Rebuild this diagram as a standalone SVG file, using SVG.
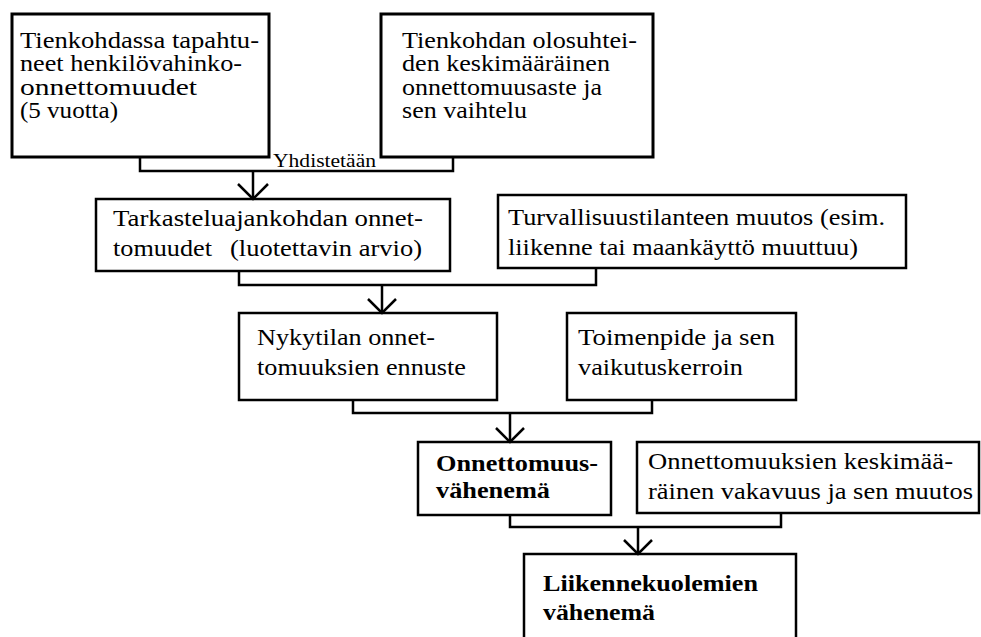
<svg xmlns="http://www.w3.org/2000/svg" width="981" height="637" viewBox="0 0 981 637">
<style>
.box{fill:#fff;stroke:#000;stroke-width:2.5}
text{font-family:'Liberation Serif','Times New Roman',Times,serif;fill:#000}
.t{font-size:23px}
.b{font-weight:bold}
.lbl{font-size:19.5px}
.c{fill:none;stroke:#000;stroke-width:2.5}
</style>
<rect width="981" height="637" fill="#fff"/>
<g id="n1"><rect class="box" x="12" y="14" width="257" height="143" style="stroke-width:3"/>
<text class="t" x="20" y="48" textLength="239" lengthAdjust="spacingAndGlyphs">Tienkohdassa tapahtu-</text>
<text class="t" x="20" y="71" textLength="222" lengthAdjust="spacingAndGlyphs">neet henkilövahinko-</text>
<text class="t" x="20" y="95" textLength="177" lengthAdjust="spacingAndGlyphs">onnettomuudet</text>
<text class="t" x="20" y="118" textLength="98" lengthAdjust="spacingAndGlyphs">(5 vuotta)</text></g>
<g id="n2"><rect class="box" x="381" y="14" width="272" height="143" style="stroke-width:3"/>
<text class="t" x="402" y="48" textLength="235" lengthAdjust="spacingAndGlyphs">Tienkohdan olosuhtei-</text>
<text class="t" x="402" y="71" textLength="208" lengthAdjust="spacingAndGlyphs">den keskimääräinen</text>
<text class="t" x="402" y="95" textLength="200" lengthAdjust="spacingAndGlyphs">onnettomuusaste ja</text>
<text class="t" x="402" y="118" textLength="125" lengthAdjust="spacingAndGlyphs">sen vaihtelu</text></g>
<g id="n3"><rect class="box" x="96" y="199" width="354" height="72"/>
<text class="t" x="113" y="226" textLength="310" lengthAdjust="spacingAndGlyphs">Tarkasteluajankohdan onnet-</text>
<text class="t" x="113" y="256" textLength="99" lengthAdjust="spacingAndGlyphs">tomuudet</text>
<text class="t" x="230" y="256" textLength="192" lengthAdjust="spacingAndGlyphs">(luotettavin arvio)</text></g>
<g id="n4"><rect class="box" x="498" y="195" width="408" height="73"/>
<text class="t" x="508" y="225" textLength="377" lengthAdjust="spacingAndGlyphs">Turvallisuustilanteen muutos (esim.</text>
<text class="t" x="508" y="255" textLength="350" lengthAdjust="spacingAndGlyphs">liikenne tai maankäyttö muuttuu)</text></g>
<g id="n5"><rect class="box" x="239" y="313" width="258" height="87"/>
<text class="t" x="257" y="345" textLength="178" lengthAdjust="spacingAndGlyphs">Nykytilan onnet-</text>
<text class="t" x="257" y="375" textLength="209" lengthAdjust="spacingAndGlyphs">tomuuksien ennuste</text></g>
<g id="n6"><rect class="box" x="567" y="313" width="229" height="87"/>
<text class="t" x="578" y="345" textLength="197" lengthAdjust="spacingAndGlyphs">Toimenpide ja sen</text>
<text class="t" x="578" y="375" textLength="165" lengthAdjust="spacingAndGlyphs">vaikutuskerroin</text></g>
<g id="n7"><rect class="box" x="418" y="442" width="193" height="73"/>
<text class="t b" x="436" y="471" textLength="162" lengthAdjust="spacingAndGlyphs">Onnettomuus-</text>
<text class="t b" x="436" y="498" textLength="114" lengthAdjust="spacingAndGlyphs">vähenemä</text></g>
<g id="n8"><rect class="box" x="637" y="442" width="342" height="71"/>
<text class="t" x="648" y="469" textLength="305" lengthAdjust="spacingAndGlyphs">Onnettomuuksien keskimää-</text>
<text class="t" x="648" y="499" textLength="325" lengthAdjust="spacingAndGlyphs">räinen vakavuus ja sen muutos</text></g>
<g id="n9"><rect class="box" x="524" y="554" width="272" height="110"/>
<text class="t b" x="543" y="591" textLength="215" lengthAdjust="spacingAndGlyphs">Liikennekuolemien</text>
<text class="t b" x="543" y="620" textLength="112" lengthAdjust="spacingAndGlyphs">vähenemä</text></g>
<g id="connectors">
<polyline class="c" points="140,157 140,171 453,171 453,157"/>
<line class="c" x1="253" y1="171" x2="253" y2="199"/>
<polyline class="c" points="238,184 253,199 268,184"/>
<text class="lbl" x="273" y="167" textLength="103" lengthAdjust="spacingAndGlyphs">Yhdistetään</text>
<polyline class="c" points="239,271 239,285 596,285 596,268"/>
<line class="c" x1="382" y1="285" x2="382" y2="313"/>
<polyline class="c" points="368,299 382,313 396,299"/>
<polyline class="c" points="353,400 353,413 652,413 652,400"/>
<line class="c" x1="510" y1="413" x2="510" y2="442"/>
<polyline class="c" points="496,428 510,442 524,428"/>
<polyline class="c" points="510,515 510,527 781,527 781,513"/>
<line class="c" x1="638" y1="527" x2="638" y2="554"/>
<polyline class="c" points="624,540 638,554 652,540"/>
</g>
</svg>
